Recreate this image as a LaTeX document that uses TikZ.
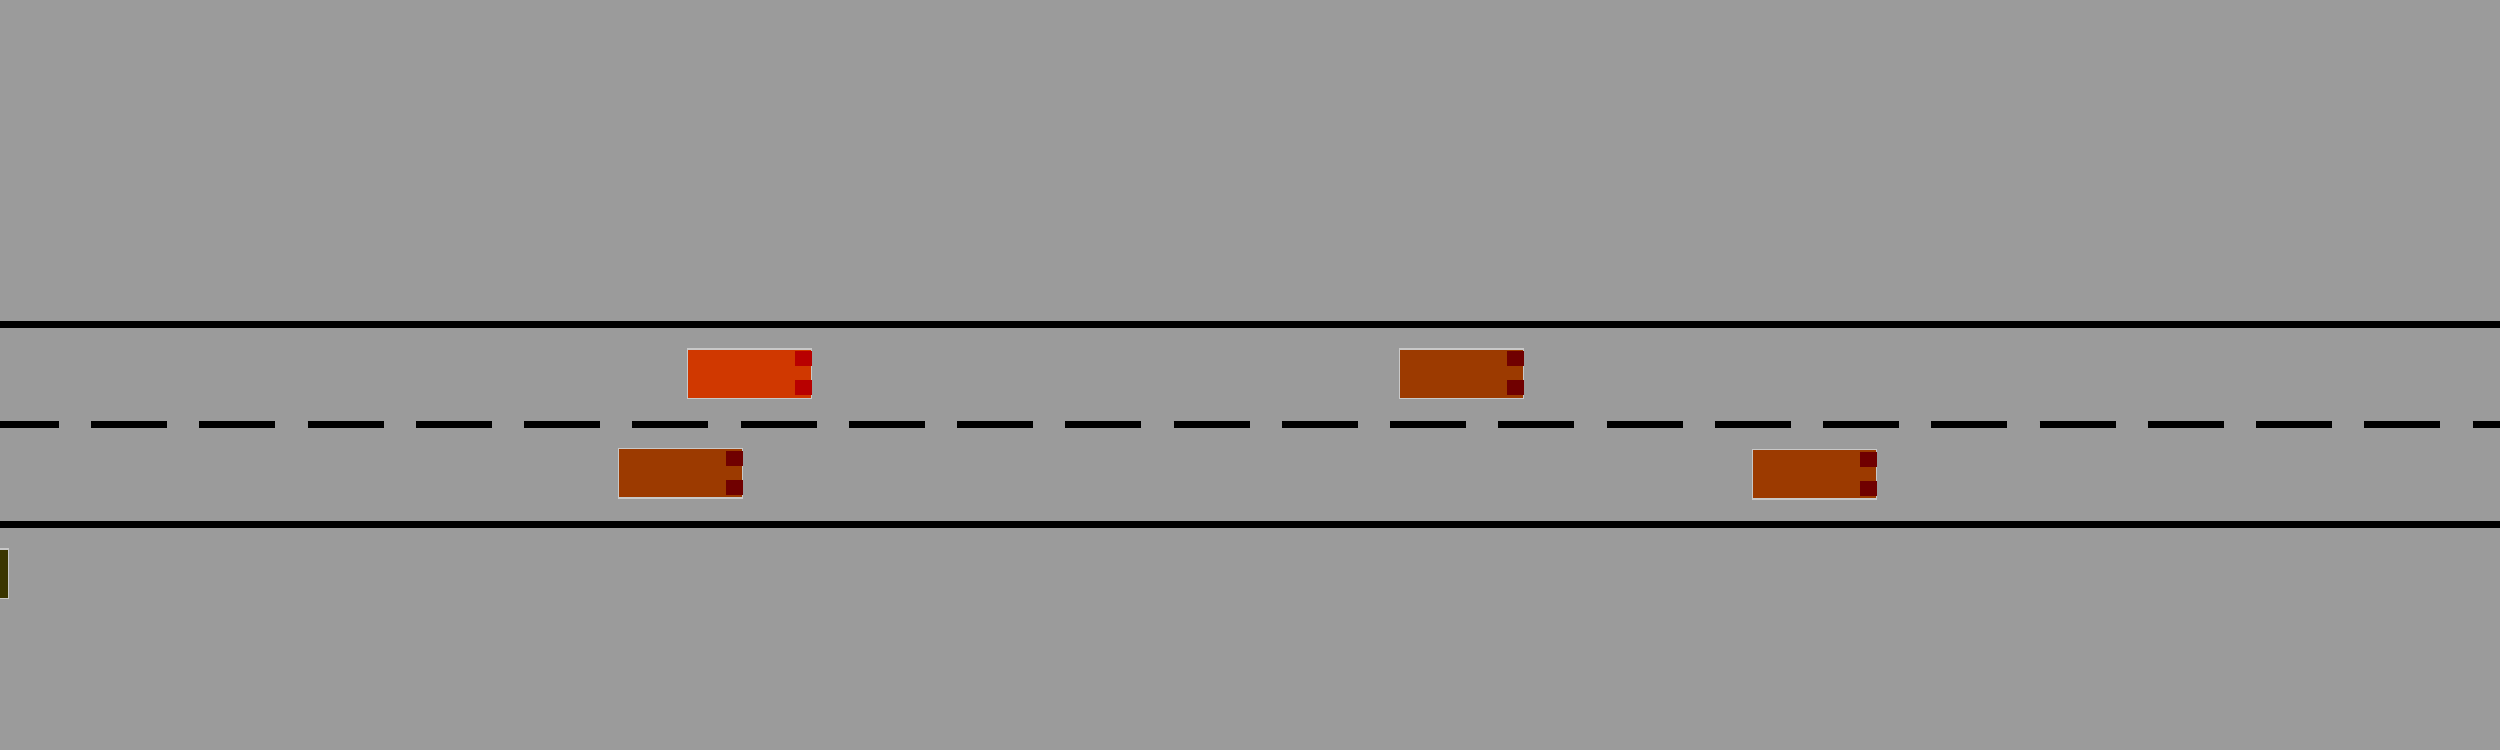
\documentclass[tikz,border=0pt]{standalone}
\usepackage{xcolor}
\usepackage{tikz}
\usetikzlibrary{positioning}

\definecolor{asphalt}{HTML}{9B9B9B}
\definecolor{carline}{HTML}{C8C8C8}
\definecolor{egocar}{HTML}{D03800}
\definecolor{othercar}{HTML}{9C3A00}
\definecolor{farcar}{HTML}{3A3500}
\definecolor{egolamp}{HTML}{B80000}
\definecolor{otherlamp}{HTML}{700000}

\begin{document}
\begin{tikzpicture}[
  x=0.1mm, y=-0.1mm,
  edge/.style={line width=0.7mm, black},
  lanemark/.style={line width=0.7mm, black, dash pattern=on 7.6mm off 3.224mm,
                   dash phase=1.7mm},
  car/.style={draw=carline, line width=0.15mm, inner sep=0pt,
              minimum width=12.4mm, minimum height=4.95mm},
  lamp/.style={inner sep=0pt, minimum width=1.7mm, minimum height=1.5mm, anchor=east}
]
\useasboundingbox (0,0) rectangle (2500,750);
\fill[asphalt] (0,0) rectangle (2500,750);
\clip (0,0) rectangle (2500,750);

% road
\draw[edge] (0,324.5) -- (2500,324.5);
\draw[lanemark] (0,424.5) -- (2500,424.5);
\draw[edge] (0,524.5) -- (2500,524.5);

% vehicles
\node[car, fill=egocar] (ego) at (749.5,373.9) {};
\node[car, fill=othercar] (rearleft) at (680.5,473) {};
\node[car, fill=othercar] (front) at (1461.5,373.9) {};
\node[car, fill=othercar] (frontright) at (1814.5,474) {};
\node[car, fill=farcar] (shoulder) at (-53.3,573.5) {};

\foreach \c/\l in {ego/egolamp, rearleft/otherlamp, front/otherlamp, frontright/otherlamp} {
  \node[lamp, fill=\l] (\c-tl) at ([yshift=1.5mm]\c.east) {};
  \node[lamp, fill=\l] (\c-bl) at ([yshift=-1.4mm]\c.east) {};
}
\end{tikzpicture}
\end{document}
